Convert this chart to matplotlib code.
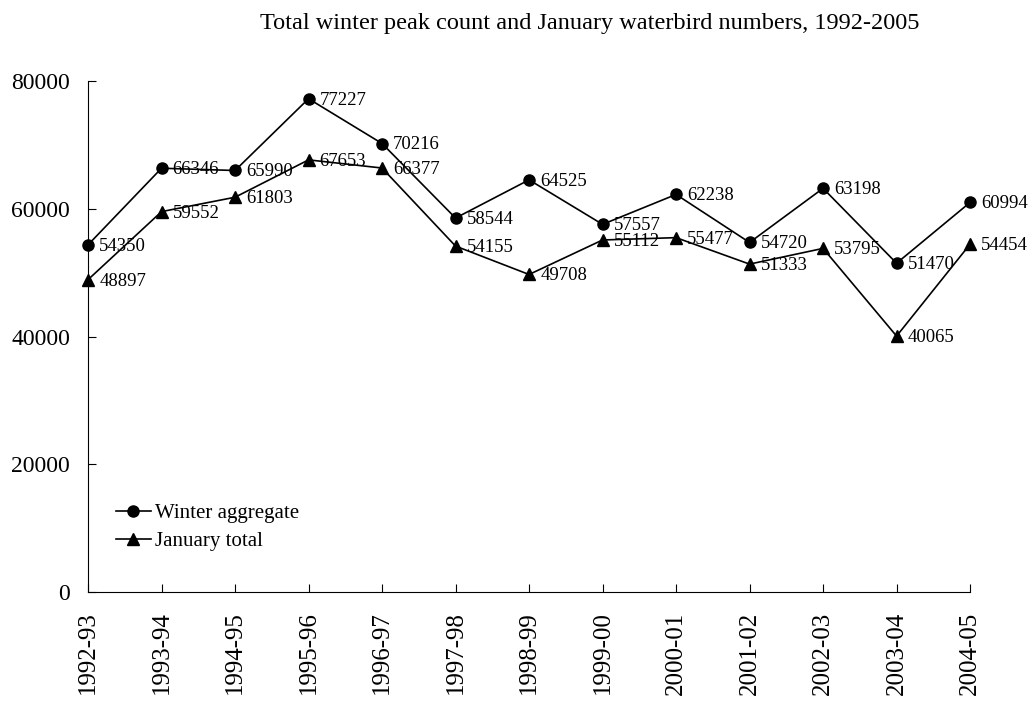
import numpy as np
import matplotlib.pyplot as plt

plt.rcParams['font.family'] = ['Liberation Serif', 'DejaVu Serif']

# Data
seasons = ["1992-93", "1993-94", "1994-95", "1995-96", "1996-97", "1997-98", "1998-99",
           "1999-00", "2000-01", "2001-02", "2002-03", "2003-04", "2004-05"]
winter_aggregate = [54350, 66346, 65990, 77227, 70216, 58544, 64525,
                    57557, 62238, 54720, 63198, 51470, 60994]
january_total = [48897, 59552, 61803, 67653, 66377, 54155, 49708,
                 55112, 55477, 51333, 53795, 40065, 54454]

x = np.arange(len(seasons))

fig = plt.figure(figsize=(10.32, 7.02), dpi=100)
ax = fig.add_axes([0.0853, 0.1567, 0.8547, 0.7279])

ax.plot(x, winter_aggregate, color="black", lw=1.2, marker="o", markersize=8,
        label="Winter aggregate", clip_on=False, zorder=3)
ax.plot(x, january_total, color="black", lw=1.2, marker="^", markersize=8.5,
        label="January total", clip_on=False, zorder=3)

for xi, v in zip(x, winter_aggregate):
    ax.annotate(str(v), (xi, v), xytext=(8, -1), textcoords="offset points",
                ha="left", va="center", fontsize=13.5)
for xi, v in zip(x, january_total):
    ax.annotate(str(v), (xi, v), xytext=(8, -1), textcoords="offset points",
                ha="left", va="center", fontsize=13.5)

ax.set_xlim(0, 12)
ax.set_ylim(0, 80000)
ax.set_yticks([0, 20000, 40000, 60000, 80000])
ax.set_xticks(x)
ax.set_xticklabels(seasons, rotation=90, fontsize=18)
ax.tick_params(axis="y", labelsize=17, direction="in", length=5.5, pad=13)
ax.tick_params(axis="x", direction="in", length=5.5, pad=14)

for s in ["top", "right"]:
    ax.spines[s].set_visible(False)

ax.legend(loc="upper left", bbox_to_anchor=(0.01, 0.21), frameon=False, fontsize=15,
          handlelength=1.7, handletextpad=0.2, labelspacing=0.42)

fig.suptitle("Total winter peak count and January waterbird numbers, 1992-2005",
             x=0.571, y=0.982, fontsize=17.5)

plt.savefig("out.png", dpi=100)
